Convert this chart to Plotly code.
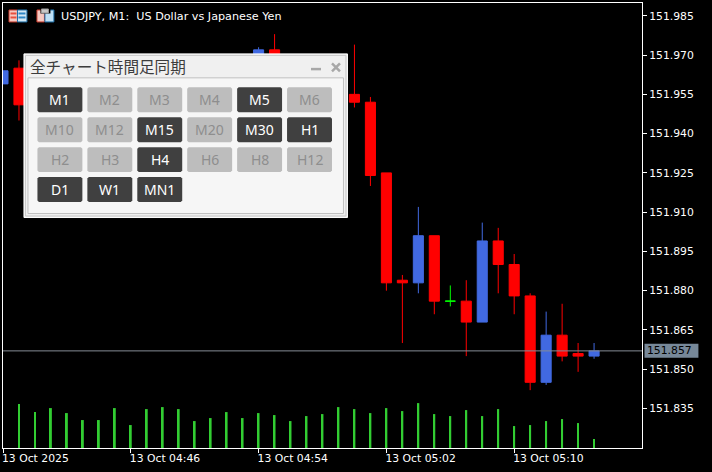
import plotly.graph_objects as go

# ---- data ----
candle_times = ["04:38","04:39","04:54","04:55","05:00","05:01","05:02","05:03","05:04","05:05",
                "05:07","05:08","05:09","05:10","05:11","05:12","05:13","05:14","05:15"]
opens  = [151.959,151.965,151.962,151.972,151.955,151.952,151.925,151.884,151.883,151.901,
          151.876,151.868,151.899,151.890,151.878,151.845,151.863,151.856,151.855]
highs  = [151.964,151.968,151.973,151.978,151.974,151.954,151.925,151.886,151.912,151.901,
          151.884,151.906,151.904,151.894,151.879,151.872,151.875,151.860,151.860]
lows   = [151.959,151.945,151.960,151.955,151.950,151.920,151.880,151.860,151.879,151.871,
          151.855,151.868,151.879,151.871,151.842,151.844,151.853,151.849,151.854]
closes = [151.964,151.951,151.972,151.960,151.952,151.924,151.883,151.883,151.901,151.876,
          151.868,151.899,151.890,151.878,151.845,151.863,151.855,151.855,151.857]

doji_time = ["05:06"]
doji_open = [151.876]
doji_high = [151.882]
doji_low = [151.874]
doji_close = [151.876]

volume_times = ["04:39","04:40","04:41","04:42","04:43","04:44","04:45","04:46","04:47","04:48","04:49",
                "04:50","04:51","04:52","04:53","04:54","04:55","04:56","04:57","04:58","04:59","05:00",
                "05:01","05:02","05:03","05:04","05:05","05:06","05:07","05:08","05:09","05:10","05:11",
                "05:12","05:13","05:14","05:15"]
volumes = [44,36,40,35,28,28,40,23,39,41,39,27,30,36,30,35,33,27,32,34,41,39,
           35,40,37,45,34,32,38,32,39,22,23,27,29,25,9]

price_ticks = [151.985,151.970,151.955,151.940,151.925,151.910,151.895,151.880,151.865,151.850,151.835]
time_ticks = ["04:38","04:46","04:54","05:02","05:10"]
time_labels = ["13 Oct 2025","13 Oct 04:46","13 Oct 04:54","13 Oct 05:02","13 Oct 05:10"]
last_price = 151.857
title_text = "USDJPY, M1:  US Dollar vs Japanese Yen"
panel_title = "全チャート時間足同期"
button_rows = [["M1","M2","M3","M4","M5","M6"],
               ["M10","M12","M15","M20","M30","H1"],
               ["H2","H3","H4","H6","H8","H12"],
               ["D1","W1","MN1"]]
active_buttons = ["M1","M5","M15","M30","H1","H4","D1","W1","MN1"]

# ---- layout ----
W, H = 712, 472
L, R, T, B = 2.5, 642.5, 2.5, 448.5
UI = "Noto Sans"
MONO = "DejaVu Sans"
RED, BLUE, LIME, GREEN, SLATE = "#ff0000", "#4169e1", "#00ff00", "#32cd32", "#778899"

def t(s):
    return "2025-10-13 " + s + ":00"
def px(x):
    return (x - L) / (R - L)
def py(y):
    return 1 - (y - T) / (B - T)

def rect(x0, y0, x1, y1, fill=None, line=None, lw=1):
    return dict(type="rect", xref="paper", yref="paper", x0=px(x0), x1=px(x1), y0=py(y1), y1=py(y0),
                fillcolor=fill or "rgba(0,0,0,0)", line=dict(color=line or "rgba(0,0,0,0)", width=lw if line else 0),
                layer="above")

def seg(x0, y0, x1, y1, color, lw=1):
    return dict(type="line", xref="paper", yref="paper", x0=px(x0), x1=px(x1), y0=py(y0), y1=py(y1),
                line=dict(color=color, width=lw), layer="above")

def rrect(x0, y0, x1, y1, fill, r=1.5):
    p = lambda a, b: f"{px(a):.5f},{py(b):.5f}"
    d = (f"M{p(x0+r,y0)} L{p(x1-r,y0)} L{p(x1,y0+r)} L{p(x1,y1-r)} L{p(x1-r,y1)} "
         f"L{p(x0+r,y1)} L{p(x0,y1-r)} L{p(x0,y0+r)} Z")
    return dict(type="path", xref="paper", yref="paper", path=d, fillcolor=fill, line=dict(width=0), layer="above")

def label(x, y, text, size, color, family=UI, anchor="center"):
    return dict(xref="paper", yref="paper", x=px(x), y=py(y), text=text, showarrow=False, xanchor=anchor,
                yanchor="middle", font=dict(family=family, size=size, color=color), borderpad=0, borderwidth=0)

fig = go.Figure()
fig.add_trace(go.Bar(x=[t(s) for s in volume_times], y=volumes, yaxis="y2", width=7000,
                     marker=dict(color=GREEN, line=dict(width=0)), showlegend=False))
fig.add_trace(go.Candlestick(x=[t(s) for s in candle_times], open=opens, high=highs, low=lows, close=closes,
                             increasing=dict(line=dict(color=BLUE, width=1), fillcolor=BLUE),
                             decreasing=dict(line=dict(color=RED, width=1), fillcolor=RED),
                             showlegend=False))
fig.add_trace(go.Candlestick(x=[t(s) for s in doji_time], open=doji_open, high=doji_high, low=doji_low, close=doji_close,
                             increasing=dict(line=dict(color=LIME, width=1), fillcolor=LIME),
                             decreasing=dict(line=dict(color=LIME, width=1), fillcolor=LIME),
                             showlegend=False))

shapes = [dict(type="line", xref="paper", yref="y", x0=0, x1=1, y0=last_price, y1=last_price,
               line=dict(color="#858c96", width=1), layer="above")]

# price tag on the scale
shapes.append(rect(645, 344, 699, 358, fill=SLATE))

# header icons
shapes += [rect(8.5, 9.5, 17, 21.5, fill="#f6c9c2", line="#c8392b", lw=1),
           rect(17, 9.5, 26.5, 21.5, fill="#d4e8f5", line="#1c6ea8", lw=1),
           rect(10, 12, 16, 14, fill="#e8503f"), rect(10, 16, 16, 18, fill="#e8503f"),
           rect(18, 12, 25, 14, fill="#2f86c5"), rect(18, 16, 25, 18, fill="#2f86c5"),
           rect(36.5, 9.5, 44, 21.5, fill="#f6c9c2", line="#c8392b", lw=1),
           rect(44.5, 9.5, 53.5, 21.5, fill="#bfe0f5", line="#1c6ea8", lw=1),
           rect(40, 8, 50, 13, fill="#000000"),
           rect(41, 8.5, 48, 12.5, fill="#c8c8c8", line="#9a9a9a", lw=1)]

# panel
shapes += [rect(23.5, 53.5, 347.5, 217.5, fill="#f0f0f0", line="#ffffff", lw=1),
           rect(25, 55, 346, 216, fill="#f0f0f0", line="#c8c8c8", lw=1),
           rect(27.5, 77.5, 343.5, 213.5, fill="#f6f6f6", line="#c0c0c0", lw=1),
           rect(311, 67.5, 321, 70, fill="#a8a8a8"),
           seg(332, 63, 340, 71, "#a8a8a8", 2.5), seg(332, 71, 340, 63, "#a8a8a8", 2.5)]

annotations = [label(61, 16, title_text, 11.2, "#ffffff", MONO, "left"),
               label(648, 351, f"{last_price:.3f}", 10.8, "#000000", MONO, "left"),
               label(30, 65.5, panel_title, 15.6, "#3c3c3c", "Noto Sans CJK JP", "left")]

for r, row in enumerate(button_rows):
    for c, name in enumerate(row):
        x0 = 37 + 50 * c
        y0 = 87 + 30 * r
        on = name in active_buttons
        shapes.append(rrect(x0, y0, x0 + 45, y0 + 25, "#404040" if on else "#bdbdbd"))
        annotations.append(label(x0 + 22.5, y0 + 12.5, name, 14, "#ffffff" if on else "#8e8e8e"))

fig.update_layout(
    width=W, height=H, autosize=False,
    margin=dict(l=L, r=W - R, t=T, b=H - B, pad=0),
    paper_bgcolor="#000000", plot_bgcolor="#000000",
    showlegend=False, boxgap=0.1, barmode="overlay",
    shapes=shapes, annotations=annotations,
    xaxis=dict(type="date", range=[t("04:38"), t("05:18")], rangeslider=dict(visible=False),
               tickmode="array", tickvals=[t(s) for s in time_ticks], ticktext=time_labels,
               ticks="outside", ticklen=4, tickcolor="#ffffff", tickwidth=1,
               ticklabelposition="outside right", tickangle=0, ticklabelshift=-2,
               tickfont=dict(family=MONO, size=10.8, color="#ffffff"),
               showgrid=False, zeroline=False, showline=True, linecolor="#ffffff", linewidth=1, mirror=True),
    yaxis=dict(side="right", range=[151.8199, 151.9899], tickmode="array", tickvals=price_ticks,
               tickformat=".3f", ticks="outside", ticklen=4, tickcolor="#ffffff", tickwidth=1,
               tickfont=dict(family=MONO, size=10.8, color="#ffffff"),
               showgrid=False, zeroline=False, showline=True, linecolor="#ffffff", linewidth=1, mirror=True),
    yaxis2=dict(overlaying="y", side="right", range=[0, 446], visible=False),
)

fig.write_html("out.html", config=dict(displayModeBar=False),
               post_script="document.body.style.margin='0';document.body.style.overflow='hidden';document.body.style.background='#000';")
